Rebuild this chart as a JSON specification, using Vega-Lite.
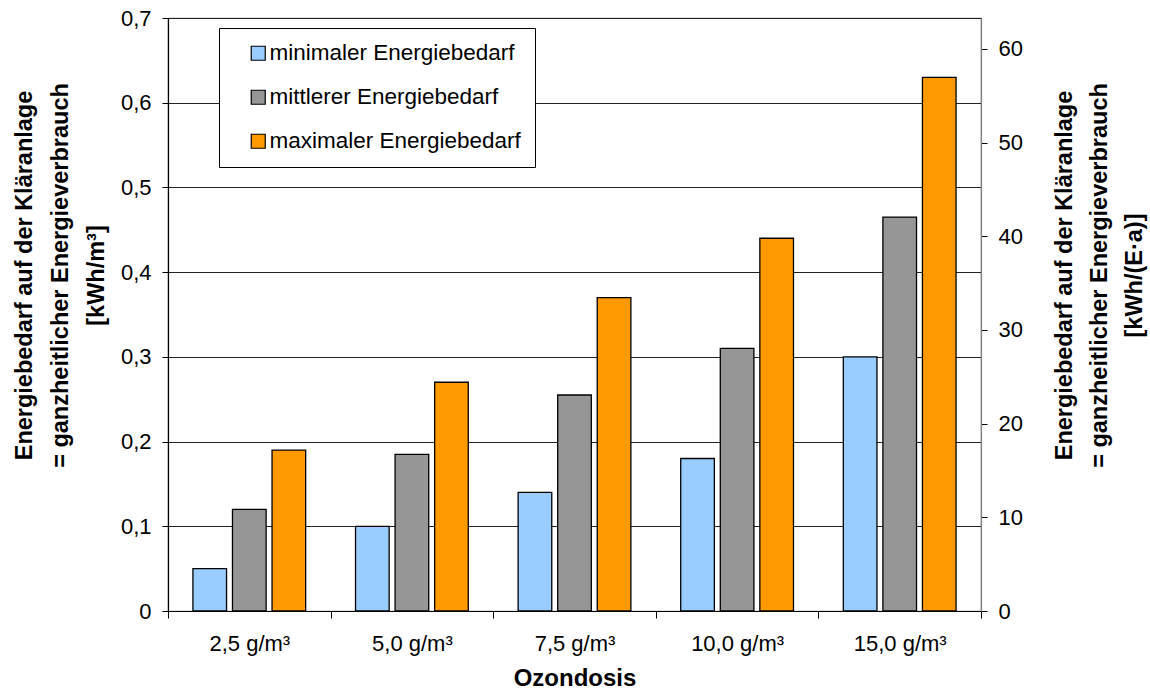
{
  "$schema": "https://vega.github.io/schema/vega-lite/v6.json",
  "width": 813,
  "height": 593,
  "autosize": {"type": "none"},
  "padding": {"left": 168, "top": 18, "right": 169, "bottom": 78},
  "background": "white",
  "config": {
    "font": "Liberation Sans",
    "view": {"stroke": "#808080", "strokeWidth": 1.2}
  },
  "layer": [
    {
      "data": {
        "values": [
          {"dose": "2,5 g/m³", "series": "minimaler Energiebedarf", "value": 0.05},
          {"dose": "2,5 g/m³", "series": "mittlerer Energiebedarf", "value": 0.12},
          {"dose": "2,5 g/m³", "series": "maximaler Energiebedarf", "value": 0.19},
          {"dose": "5,0 g/m³", "series": "minimaler Energiebedarf", "value": 0.10},
          {"dose": "5,0 g/m³", "series": "mittlerer Energiebedarf", "value": 0.185},
          {"dose": "5,0 g/m³", "series": "maximaler Energiebedarf", "value": 0.27},
          {"dose": "7,5 g/m³", "series": "minimaler Energiebedarf", "value": 0.14},
          {"dose": "7,5 g/m³", "series": "mittlerer Energiebedarf", "value": 0.255},
          {"dose": "7,5 g/m³", "series": "maximaler Energiebedarf", "value": 0.37},
          {"dose": "10,0 g/m³", "series": "minimaler Energiebedarf", "value": 0.18},
          {"dose": "10,0 g/m³", "series": "mittlerer Energiebedarf", "value": 0.31},
          {"dose": "10,0 g/m³", "series": "maximaler Energiebedarf", "value": 0.44},
          {"dose": "15,0 g/m³", "series": "minimaler Energiebedarf", "value": 0.30},
          {"dose": "15,0 g/m³", "series": "mittlerer Energiebedarf", "value": 0.465},
          {"dose": "15,0 g/m³", "series": "maximaler Energiebedarf", "value": 0.63}
        ]
      },
      "mark": {"type": "bar", "stroke": "black", "strokeWidth": 1.3},
      "encoding": {
        "x": {
          "field": "dose",
          "type": "nominal",
          "sort": ["2,5 g/m³", "5,0 g/m³", "7,5 g/m³", "10,0 g/m³", "15,0 g/m³"],
          "scale": {"paddingInner": 0, "paddingOuter": 0},
          "title": "Ozondosis",
          "axis": {
            "labelAngle": 0,
            "labelFontSize": 22,
            "labelColor": "black",
            "labelPadding": 15,
            "tickBand": "extent",
            "tickSize": 7,
            "tickColor": "black",
            "domainColor": "black",
            "domainWidth": 1.2,
            "titleFontSize": 24,
            "titleFontWeight": "bold",
            "titleColor": "black",
            "titleY": 55,
            "titleBaseline": "top"
          }
        },
        "xOffset": {
          "field": "series",
          "type": "nominal",
          "sort": ["minimaler Energiebedarf", "mittlerer Energiebedarf", "maximaler Energiebedarf"],
          "scale": {"paddingInner": 0.15, "paddingOuter": 0.63}
        },
        "y": {
          "field": "value",
          "type": "quantitative",
          "scale": {"domain": [0, 0.7], "nice": false},
          "title": ["Energiebedarf auf der Kläranlage", "= ganzheitlicher Energieverbrauch", "[kWh/m³]"],
          "axis": {
            "values": [0, 0.1, 0.2, 0.3, 0.4, 0.5, 0.6, 0.7],
            "labelExpr": "datum.value == 0 ? '0' : replace(format(datum.value, '.1f'), '.', ',')",
            "labelFontSize": 22,
            "labelColor": "black",
            "labelPadding": 11,
            "tickSize": 6,
            "tickColor": "black",
            "domainColor": "black",
            "domainWidth": 1.2,
            "grid": true,
            "gridColor": "#222222",
            "gridWidth": 1,
            "titleFontSize": 23.5,
            "titleFontWeight": "bold",
            "titleColor": "black",
            "titleAngle": 270,
            "titleAlign": "center",
            "titleBaseline": "top",
            "titleLineHeight": 36,
            "titleX": -156,
            "titleY": 257
          }
        },
        "color": {
          "field": "series",
          "type": "nominal",
          "scale": {
            "domain": ["minimaler Energiebedarf", "mittlerer Energiebedarf", "maximaler Energiebedarf"],
            "range": ["#99CCFF", "#969696", "#FF9900"]
          },
          "legend": {
            "title": null,
            "orient": "none",
            "legendX": 51,
            "legendY": 10,
            "fillColor": "white",
            "strokeColor": "black",
            "padding": 14,
            "symbolOffset": 14,
            "symbolType": "square",
            "symbolSize": 196,
            "symbolStrokeColor": "black",
            "symbolStrokeWidth": 1.2,
            "symbolOpacity": 1,
            "labelFontSize": 22.5,
            "labelColor": "black",
            "labelOffset": 0,
            "labelLimit": 400,
            "rowPadding": 21
          }
        }
      }
    },
    {
      "data": {"values": [{"r": 0}, {"r": 60}]},
      "mark": {"type": "point", "opacity": 0},
      "encoding": {
        "y": {
          "field": "r",
          "type": "quantitative",
          "scale": {"domain": [0, 63.3], "nice": false},
          "title": ["Energiebedarf auf der Kläranlage", "= ganzheitlicher Energieverbrauch", "[kWh/(E·a)]"],
          "axis": {
            "orient": "right",
            "values": [0, 10, 20, 30, 40, 50, 60],
            "labelFontSize": 22,
            "labelColor": "black",
            "labelPadding": 11,
            "tickSize": 6,
            "tickColor": "black",
            "domainColor": "#808080",
            "domainWidth": 1.2,
            "grid": false,
            "titleFontSize": 23.5,
            "titleFontWeight": "bold",
            "titleColor": "black",
            "titleAngle": 270,
            "titleAlign": "center",
            "titleBaseline": "top",
            "titleLineHeight": 35,
            "titleX": 71,
            "titleY": 257
          }
        }
      }
    }
  ],
  "resolve": {"scale": {"y": "independent"}}
}
